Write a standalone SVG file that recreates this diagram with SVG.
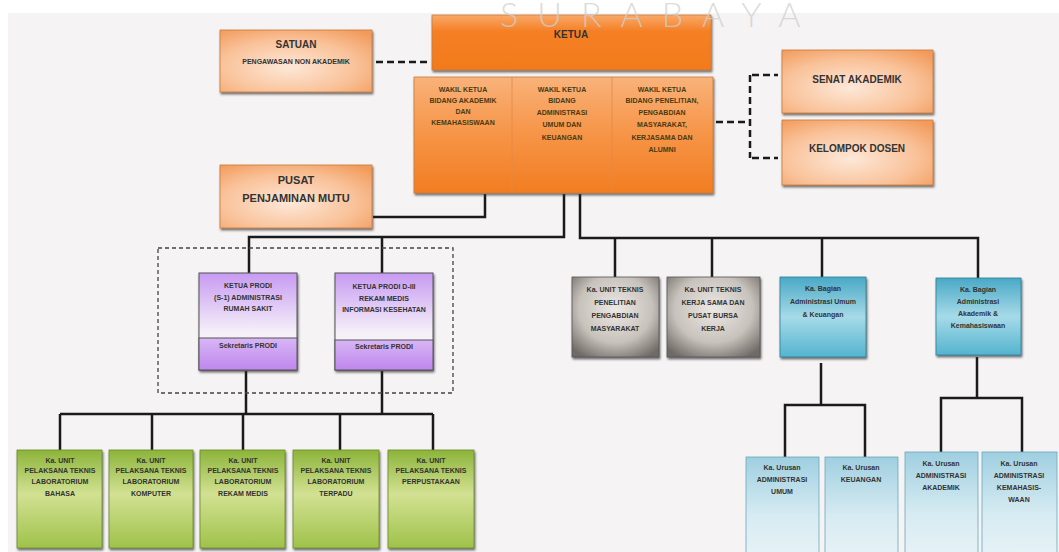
<svg xmlns="http://www.w3.org/2000/svg" width="1059" height="552" viewBox="0 0 1059 552">
<defs>
<linearGradient id="gKetua" x1="0" y1="0" x2="0" y2="1"><stop offset="0" stop-color="#f9a96a"/><stop offset="0.3" stop-color="#f57f24"/><stop offset="1" stop-color="#f27a1c"/></linearGradient>
<linearGradient id="gWakil" x1="0" y1="0" x2="0" y2="1"><stop offset="0" stop-color="#f9b27a"/><stop offset="0.5" stop-color="#f69446"/><stop offset="1" stop-color="#f27d22"/></linearGradient>
<radialGradient id="gLight" cx="0.45" cy="0.6" r="0.75"><stop offset="0" stop-color="#fde8d8"/><stop offset="0.6" stop-color="#f9c198"/><stop offset="1" stop-color="#f29a5a"/></radialGradient>
<linearGradient id="gPurpTop" x1="0" y1="0" x2="0" y2="1"><stop offset="0" stop-color="#c79af2"/><stop offset="0.6" stop-color="#f4eef8"/><stop offset="1" stop-color="#ffffff"/></linearGradient>
<linearGradient id="gPurpBot" x1="0" y1="0" x2="0" y2="1"><stop offset="0" stop-color="#d8b6f4"/><stop offset="1" stop-color="#bf86ee"/></linearGradient>
<radialGradient id="gGray" cx="0.5" cy="0.4" r="0.7"><stop offset="0" stop-color="#ece8e4"/><stop offset="0.6" stop-color="#c8c2bc"/><stop offset="1" stop-color="#6f6a66"/></radialGradient>
<linearGradient id="gBlue" x1="0" y1="0" x2="0" y2="1"><stop offset="0" stop-color="#49a9c6"/><stop offset="0.5" stop-color="#a6dae8"/><stop offset="1" stop-color="#54b4cf"/></linearGradient>
<linearGradient id="gLBlue" x1="0" y1="0" x2="0" y2="1"><stop offset="0" stop-color="#9fcfe0"/><stop offset="0.6" stop-color="#d6ebf2"/><stop offset="1" stop-color="#e6f2f6"/></linearGradient>
<linearGradient id="gGreen" x1="0" y1="0" x2="0" y2="1"><stop offset="0" stop-color="#8cb43a"/><stop offset="0.45" stop-color="#d2e192"/><stop offset="1" stop-color="#9fc24a"/></linearGradient>
<filter id="sh" x="-10%" y="-10%" width="125%" height="125%"><feDropShadow dx="1" dy="2" stdDeviation="1" flood-color="#333" flood-opacity="0.7"/></filter>
</defs>
<style>
.t{font-family:"Liberation Sans",Arial,sans-serif;font-weight:bold;fill:#333;text-anchor:middle}
.s7{font-size:7px}
.s8{font-size:8px}
.s10{font-size:10px}
.s11{font-size:11px}
.w{fill:#4b3a12}
.ln{fill:none;stroke:#1a1a1a;stroke-width:2.5}
.dl{fill:none;stroke:#1a1a1a;stroke-width:2.5;stroke-dasharray:7 4}
.grp{fill:none;stroke:#444;stroke-width:1.3;stroke-dasharray:4 3}
.bx{stroke:#c77a3a;stroke-width:0.8;filter:url(#sh)}
</style>
<rect x="0" y="0" width="1059" height="552" fill="#ffffff"/>
<rect x="8" y="13" width="1051" height="539" fill="#f5f3f3"/>

<g id="connectors">
<path class="dl" d="M376 62 H431"/>
<path class="dl" d="M716 122 H748 M750 75 V158 M752 75 H778 M752 158 H778"/>
<path class="ln" d="M373 217 H485 V194"/>
<path class="ln" d="M564 194 V237 H249 V273 M382 237 V273"/>
<path class="ln" d="M580 194 V238 H978 V278 M615 238 V277 M712 238 V277 M822 238 V277"/>
<path class="ln" d="M246 371 V414 M382 371 V414 M60 414 H433 M60 414 V450 M152 414 V450 M243 414 V450 M340 414 V450 M433 414 V450"/>
<path class="ln" d="M821 363 V405 M785 457 V405 H865 V457"/>
<path class="ln" d="M977 357 V398 M941 452 V398 H1022 V452"/>
<rect class="grp" x="158" y="248" width="295" height="145"/>
</g>

<g id="ketua">
<rect class="bx" x="432" y="15" width="279" height="55" fill="url(#gKetua)"/>
<text class="t s10" x="571" y="38" fill="#3a2a10">KETUA</text>
</g>

<g id="wakil">
<rect class="bx" x="414" y="77" width="299" height="116" fill="url(#gWakil)"/>
<line x1="512" y1="77" x2="512" y2="193" stroke="#e08a4a" stroke-width="0.8"/>
<line x1="612" y1="77" x2="612" y2="193" stroke="#e08a4a" stroke-width="0.8"/>
<text class="t s7 w" x="463" y="92">WAKIL KETUA</text>
<text class="t s7 w" x="463" y="103">BIDANG AKADEMIK</text>
<text class="t s7 w" x="463" y="114">DAN</text>
<text class="t s7 w" x="463" y="125">KEMAHASISWAAN</text>
<text class="t s7 w" x="562" y="92">WAKIL KETUA</text>
<text class="t s7 w" x="562" y="103">BIDANG</text>
<text class="t s7 w" x="562" y="115">ADMINISTRASI</text>
<text class="t s7 w" x="562" y="127">UMUM DAN</text>
<text class="t s7 w" x="562" y="140">KEUANGAN</text>
<text class="t s7 w" x="662" y="92">WAKIL KETUA</text>
<text class="t s7 w" x="662" y="103">BIDANG PENELITIAN,</text>
<text class="t s7 w" x="662" y="115">PENGABDIAN</text>
<text class="t s7 w" x="662" y="127">MASYARAKAT,</text>
<text class="t s7 w" x="662" y="140">KERJASAMA DAN</text>
<text class="t s7 w" x="662" y="152">ALUMNI</text>
</g>

<g id="satuan">
<rect class="bx" x="220" y="30" width="152" height="62" fill="url(#gLight)"/>
<text class="t s10" x="296" y="48">SATUAN</text>
<text class="t s7" x="296" y="64">PENGAWASAN NON AKADEMIK</text>
</g>

<g id="pusat">
<rect class="bx" x="220" y="165" width="152" height="63" fill="url(#gLight)"/>
<text class="t s11" x="296" y="184">PUSAT</text>
<text class="t s11" x="296" y="202">PENJAMINAN MUTU</text>
</g>

<g id="senat">
<rect class="bx" x="782" y="50" width="151" height="63" fill="url(#gLight)"/>
<text class="t s10" x="857" y="83">SENAT AKADEMIK</text>
</g>

<g id="kelompok">
<rect class="bx" x="782" y="120" width="151" height="65" fill="url(#gLight)"/>
<text class="t s10" x="857" y="152">KELOMPOK DOSEN</text>
</g>

<g id="prodi1">
<rect x="199" y="273" width="98" height="97" fill="url(#gPurpTop)" stroke="#555" stroke-width="1" filter="url(#sh)"/>
<rect x="199" y="338" width="98" height="32" fill="url(#gPurpBot)" stroke="#555" stroke-width="1"/>
<text class="t s7" x="248" y="288">KETUA PRODI</text>
<text class="t s7" x="248" y="300">(S-1) ADMINISTRASI</text>
<text class="t s7" x="248" y="311">RUMAH SAKIT</text>
<text class="t s7" x="248" y="348">Sekretaris PRODI</text>
</g>

<g id="prodi2">
<rect x="335" y="273" width="98" height="97" fill="url(#gPurpTop)" stroke="#555" stroke-width="1" filter="url(#sh)"/>
<rect x="335" y="340" width="98" height="30" fill="url(#gPurpBot)" stroke="#555" stroke-width="1"/>
<text class="t s7" x="384" y="289">KETUA PRODI D-III</text>
<text class="t s7" x="384" y="301">REKAM MEDIS</text>
<text class="t s7" x="384" y="312">INFORMASI KESEHATAN</text>
<text class="t s7" x="384" y="349">Sekretaris PRODI</text>
</g>

<g id="uptPenelitian">
<rect x="572" y="277" width="87" height="80" fill="url(#gGray)" stroke="#555" stroke-width="0.8" filter="url(#sh)"/>
<text class="t s7" x="615" y="292">Ka. UNIT TEKNIS</text>
<text class="t s7" x="615" y="305">PENELITIAN</text>
<text class="t s7" x="615" y="318">PENGABDIAN</text>
<text class="t s7" x="615" y="331">MASYARAKAT</text>
</g>

<g id="uptKerjasama">
<rect x="667" y="277" width="93" height="80" fill="url(#gGray)" stroke="#555" stroke-width="0.8" filter="url(#sh)"/>
<text class="t s7" x="713" y="292">Ka. UNIT TEKNIS</text>
<text class="t s7" x="713" y="305">KERJA SAMA DAN</text>
<text class="t s7" x="713" y="318">PUSAT BURSA</text>
<text class="t s7" x="713" y="331">KERJA</text>
</g>

<g id="bagianUmum">
<rect x="780" y="277" width="86" height="80" fill="url(#gBlue)" stroke="#2a7f99" stroke-width="0.8" filter="url(#sh)"/>
<text class="t s7" x="823" y="291">Ka. Bagian</text>
<text class="t s7" x="823" y="304">Administrasi Umum</text>
<text class="t s7" x="823" y="317">&amp; Keuangan</text>
</g>

<g id="bagianAkademik">
<rect x="936" y="278" width="85" height="77" fill="url(#gBlue)" stroke="#2a7f99" stroke-width="0.8" filter="url(#sh)"/>
<text class="t s7" x="978" y="292">Ka. Bagian</text>
<text class="t s7" x="978" y="304">Administrasi</text>
<text class="t s7" x="978" y="316">Akademik &amp;</text>
<text class="t s7" x="978" y="328">Kemahasiswaan</text>
</g>

<g id="lab1">
<rect x="17" y="450" width="85" height="98" fill="url(#gGreen)" stroke="#6b8a2a" stroke-width="0.8" filter="url(#sh)"/>
<text class="t s7" x="60" y="463">Ka. UNIT</text>
<text class="t s7" x="60" y="473">PELAKSANA TEKNIS</text>
<text class="t s7" x="60" y="484">LABORATORIUM</text>
<text class="t s7" x="60" y="496">BAHASA</text>
</g>
<g id="lab2">
<rect x="109" y="450" width="84" height="98" fill="url(#gGreen)" stroke="#6b8a2a" stroke-width="0.8" filter="url(#sh)"/>
<text class="t s7" x="151" y="463">Ka. UNIT</text>
<text class="t s7" x="151" y="473">PELAKSANA TEKNIS</text>
<text class="t s7" x="151" y="484">LABORATORIUM</text>
<text class="t s7" x="151" y="496">KOMPUTER</text>
</g>
<g id="lab3">
<rect x="200" y="450" width="85" height="98" fill="url(#gGreen)" stroke="#6b8a2a" stroke-width="0.8" filter="url(#sh)"/>
<text class="t s7" x="243" y="463">Ka. UNIT</text>
<text class="t s7" x="243" y="473">PELAKSANA TEKNIS</text>
<text class="t s7" x="243" y="484">LABORATORIUM</text>
<text class="t s7" x="243" y="496">REKAM MEDIS</text>
</g>
<g id="lab4">
<rect x="293" y="450" width="86" height="98" fill="url(#gGreen)" stroke="#6b8a2a" stroke-width="0.8" filter="url(#sh)"/>
<text class="t s7" x="336" y="463">Ka. UNIT</text>
<text class="t s7" x="336" y="473">PELAKSANA TEKNIS</text>
<text class="t s7" x="336" y="484">LABORATORIUM</text>
<text class="t s7" x="336" y="496">TERPADU</text>
</g>
<g id="perpus">
<rect x="388" y="450" width="86" height="98" fill="url(#gGreen)" stroke="#6b8a2a" stroke-width="0.8" filter="url(#sh)"/>
<text class="t s7" x="431" y="463">Ka. UNIT</text>
<text class="t s7" x="431" y="473">PELAKSANA TEKNIS</text>
<text class="t s7" x="431" y="484">PERPUSTAKAAN</text>
</g>

<g id="urusanUmum">
<rect x="746" y="457" width="73" height="97" fill="url(#gLBlue)" stroke="#6aa7bd" stroke-width="0.8"/>
<text class="t s7" x="782" y="470">Ka. Urusan</text>
<text class="t s7" x="782" y="482">ADMINISTRASI</text>
<text class="t s7" x="782" y="494">UMUM</text>
</g>
<g id="urusanKeuangan">
<rect x="825" y="457" width="73" height="97" fill="url(#gLBlue)" stroke="#6aa7bd" stroke-width="0.8"/>
<text class="t s7" x="861" y="470">Ka. Urusan</text>
<text class="t s7" x="861" y="482">KEUANGAN</text>
</g>
<g id="urusanAkademik">
<rect x="905" y="452" width="73" height="102" fill="url(#gLBlue)" stroke="#6aa7bd" stroke-width="0.8"/>
<text class="t s7" x="941" y="466">Ka. Urusan</text>
<text class="t s7" x="941" y="478">ADMINISTRASI</text>
<text class="t s7" x="941" y="490">AKADEMIK</text>
</g>
<g id="urusanKemahasiswaan">
<rect x="982" y="452" width="75" height="102" fill="url(#gLBlue)" stroke="#6aa7bd" stroke-width="0.8"/>
<text class="t s7" x="1019" y="466">Ka. Urusan</text>
<text class="t s7" x="1019" y="478">ADMINISTRASI</text>
<text class="t s7" x="1019" y="490">KEMAHASIS-</text>
<text class="t s7" x="1019" y="502">WAAN</text>
</g>

<text x="500" y="27" font-family="Lato,'Open Sans',sans-serif" font-weight="300" font-size="34" fill="#cfcfcf" fill-opacity="0.75" letter-spacing="19">SURABAYA</text>
</svg>
